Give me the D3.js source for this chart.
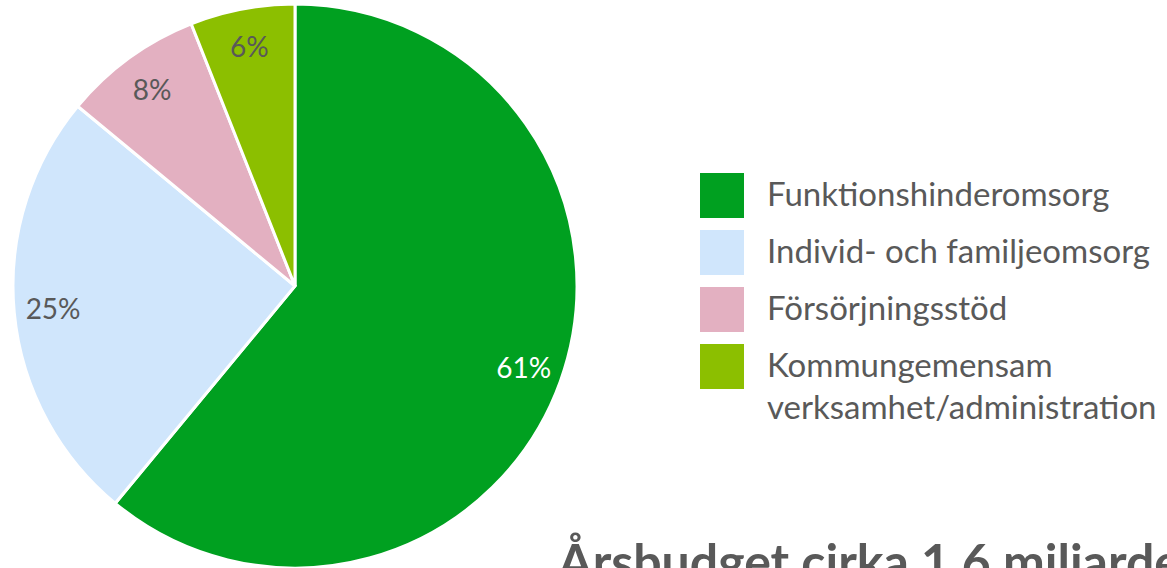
<!DOCTYPE html>
<html><head><meta charset="utf-8">
<script src="https://cdn.jsdelivr.net/npm/d3@7"></script>
<style>
html,body{margin:0;padding:0;background:#fff;overflow:hidden;}
text{font-family:Lato,"Open Sans",sans-serif;}
</style></head>
<body>
<svg id="chart" width="1167" height="568"></svg>
<script>
const categories = ["Funktionshinderomsorg", "Individ- och familjeomsorg", "Försörjningsstöd", "Kommungemensam verksamhet/administration"];
const values = [61, 25, 8, 6];
const labels = ["61%", "25%", "8%", "6%"];
const colors = ["#00A020", "#D0E6FC", "#E3B0C1", "#8CBF00"];
const labelColors = ["#FFFFFF", "#595959", "#595959", "#595959"];
const legendLines = [["Funktionshinderomsorg"], ["Individ- och familjeomsorg"], ["Försörjningsstöd"], ["Kommungemensam", "verksamhet/administration"]];
const title = "Årsbudget cirka 1,6 miljarder kronor";

const svg = d3.select("#chart");
const cx = 295, cy = 286, R = 282;
const g = svg.append("g").attr("transform", `translate(${cx},${cy})`);
const pie = d3.pie().sort(null).value(d => d)(values);
const arc = d3.arc().innerRadius(0).outerRadius(R);
const labelArc = d3.arc().innerRadius(243).outerRadius(243);

g.selectAll("path").data(pie).join("path")
  .attr("d", arc)
  .attr("fill", (d, i) => colors[i])
  .attr("stroke", "#fff").attr("stroke-width", 3).attr("stroke-linejoin", "miter");

g.selectAll("text.lbl").data(pie).join("text")
  .attr("class", "lbl")
  .attr("transform", (d, i) => {
    const c = labelArc.centroid(d);
    return `translate(${c[0]},${c[1]})`;
  })
  .attr("text-anchor", "middle").attr("dy", "0.36em")
  .attr("font-size", 28).attr("fill", (d, i) => labelColors[i])
  .text((d, i) => labels[i]);

const leg = svg.append("g").attr("transform", "translate(700,173)");
const step = 57;
categories.forEach((c, i) => {
  const row = leg.append("g").attr("transform", `translate(0,${i * step})`);
  row.append("rect").attr("width", 44).attr("height", 45).attr("fill", colors[i]);
  const t = row.append("text").attr("x", 67).attr("y", 33)
    .attr("font-size", 33).attr("fill", "#595959");
  legendLines[i].forEach((ln, j) => {
    t.append("tspan").attr("x", 67).attr("dy", j === 0 ? 0 : 42).text(ln);
  });
});

svg.append("text").attr("x", 558).attr("y", 580)
  .attr("font-size", 50).attr("font-weight", "bold").attr("fill", "#595959")
  .text(title);
</script>
</body></html>
